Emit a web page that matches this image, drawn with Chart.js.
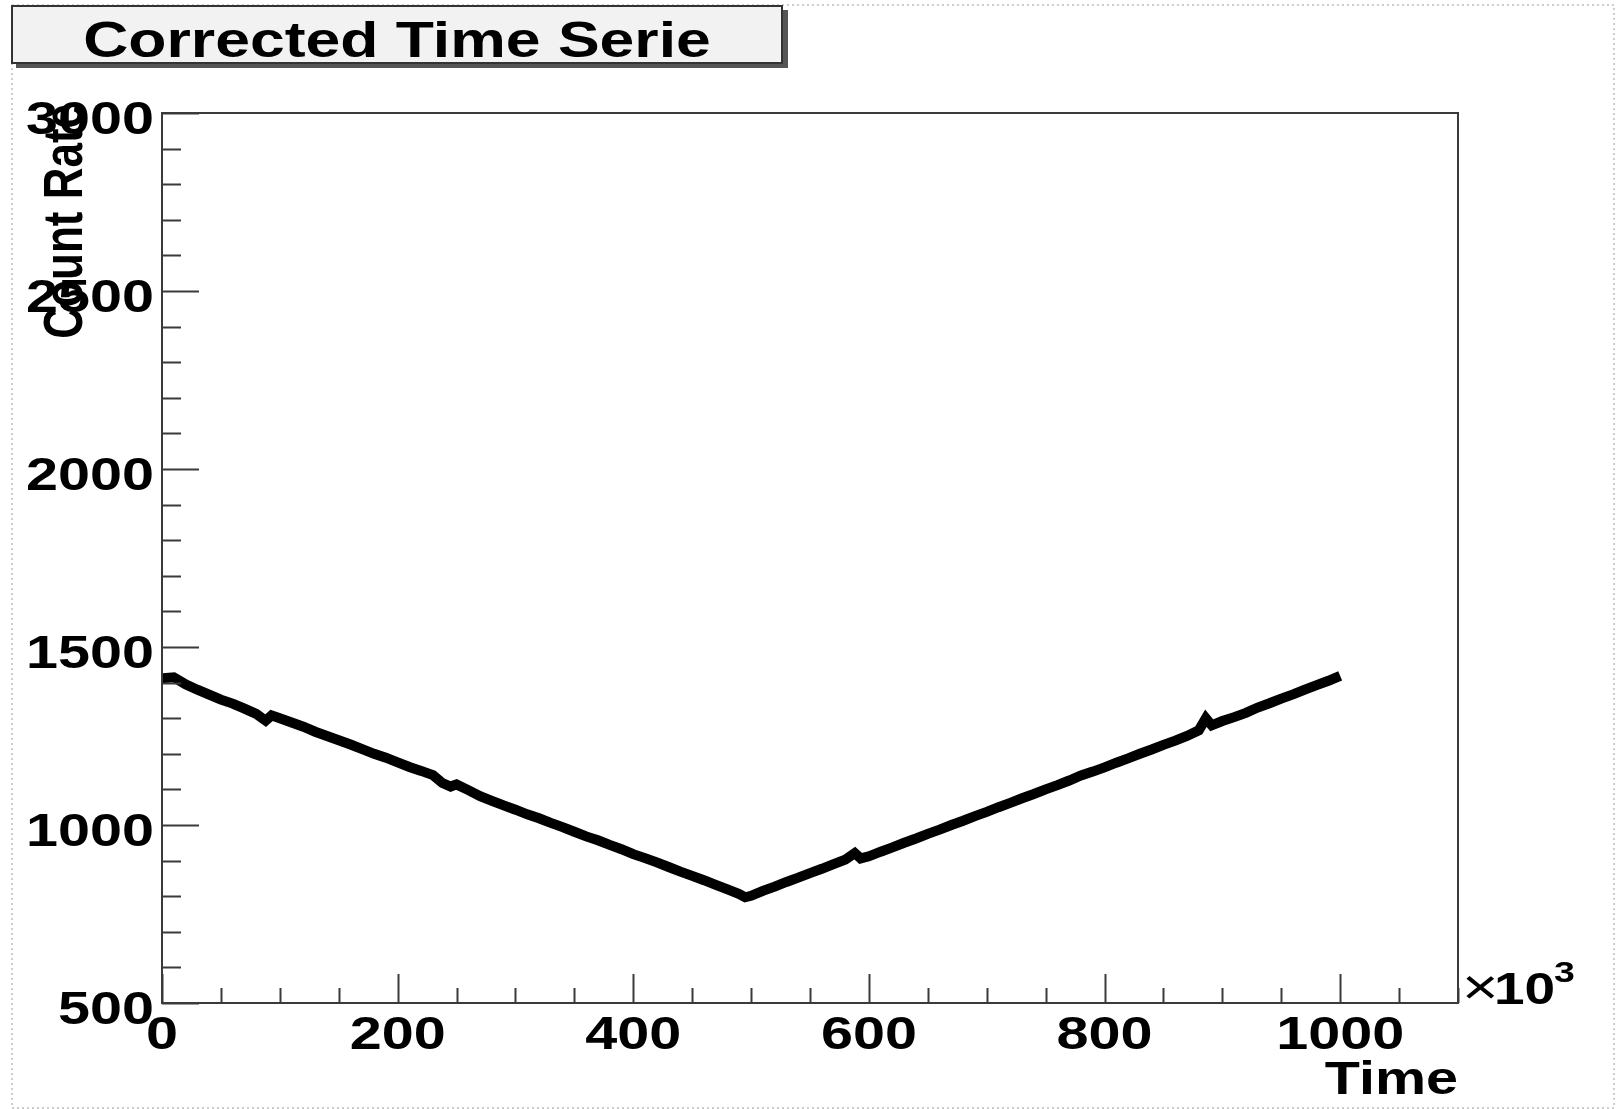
<!DOCTYPE html>
<html>
<head>
<meta charset="utf-8">
<script src="https://cdn.jsdelivr.net/npm/chart.js@4.4.1/dist/chart.umd.min.js"></script>
<style>
  html, body { margin: 0; padding: 0; background: #fff; }
  #chart-render { width: 1617px; height: 1109px; }
</style>
</head>
<body>
<div id="chart-render"><canvas id="timeSerie" width="1617" height="1109"></canvas></div>
<script>
// time in units of 10^3, count rate
const times = [0, 10, 20, 30, 40, 50, 60, 70, 80, 88, 93, 100, 110, 120, 130, 140, 150, 160, 170, 180,
  190, 200, 210, 220, 230, 238, 245, 250, 260, 270, 280, 290, 300, 310, 320, 330, 340, 350, 360, 370,
  380, 390, 400, 410, 420, 430, 440, 450, 460, 470, 480, 490, 495, 500, 510, 520, 530, 540, 550, 560,
  570, 580, 588, 593, 600, 610, 620, 630, 640, 650, 660, 670, 680, 690, 700, 710, 720, 730, 740, 750,
  760, 770, 780, 790, 800, 810, 820, 830, 840, 850, 860, 870, 880, 886, 891, 900, 910, 920, 930, 940,
  950, 960, 970, 980, 990, 1000];
const countRate = [1412, 1415, 1395, 1380, 1366, 1352, 1341, 1327, 1312, 1293, 1308, 1300, 1288, 1276, 1262, 1250, 1238, 1226, 1213, 1200,
  1189, 1176, 1163, 1152, 1140, 1118, 1108, 1114, 1098, 1081, 1068, 1055, 1043, 1030, 1019, 1006, 994, 981, 968, 957,
  944, 932, 918, 907, 895, 882, 869, 857, 845, 832, 819, 806, 797, 801, 815, 827, 840, 852, 865, 877,
  890, 903, 921, 906, 912, 925, 937, 950, 962, 975, 987, 1000, 1012, 1025, 1037, 1050, 1062, 1075, 1087, 1100,
  1112, 1125, 1139, 1150, 1162, 1175, 1187, 1200, 1212, 1225, 1237, 1250, 1266, 1300, 1280, 1292, 1303, 1315, 1330, 1342,
  1355, 1367, 1380, 1393, 1405, 1419];

const yTicks = [500, 1000, 1500, 2000, 2500, 3000];
const yMinorStep = 100;
const xTicks = [0, 200, 400, 600, 800, 1000];
const xMinorStep = 50;

const FONT = '"Liberation Sans", Arial, Helvetica, sans-serif';
const STRETCH = 1.25; // the original picture is stretched sideways

const stretchedText = (ctx, text, x, y, size, weight, align) => {
  ctx.save();
  ctx.translate(x, y);
  ctx.scale(STRETCH, 1);
  ctx.font = `${weight} ${size}px ${FONT}`;
  ctx.textAlign = align;
  ctx.textBaseline = 'alphabetic';
  ctx.fillText(text, 0, 0);
  ctx.restore();
};

// ROOT-like frame, inside ticks, labels and title box
const rootStyle = {
  id: 'rootStyle',
  beforeDraw(chart) {
    const { ctx } = chart;
    ctx.save();
    ctx.strokeStyle = '#bdbdbd';
    ctx.lineWidth = 1.5;
    ctx.setLineDash([2, 3]);
    ctx.strokeRect(12, 5, 1602, 1103);
    ctx.restore();
  },
  afterDraw(chart) {
    const { ctx, chartArea: a } = chart;
    const xs = chart.scales.x;
    const ys = chart.scales.y;

    ctx.save();
    ctx.strokeStyle = '#3a3a3a';
    ctx.lineWidth = 2;
    ctx.strokeRect(a.left, a.top, a.right - a.left, a.bottom - a.top);

    // y ticks
    ctx.beginPath();
    for (let v = ys.min; v <= ys.max; v += yMinorStep) {
      const py = Math.round(ys.getPixelForValue(v)) + 0.5;
      const len = yTicks.includes(v) ? 37 : 19;
      ctx.moveTo(a.left, py);
      ctx.lineTo(a.left + len, py);
    }
    // x ticks
    for (let v = xs.min; v <= xs.max; v += xMinorStep) {
      const px = Math.round(xs.getPixelForValue(v)) + 0.5;
      const len = xTicks.includes(v) ? 29 : 15;
      ctx.moveTo(px, a.bottom);
      ctx.lineTo(px, a.bottom - len);
    }
    ctx.stroke();

    ctx.fillStyle = '#000';
    yTicks.forEach((v) => {
      stretchedText(ctx, String(v), a.left - 8, ys.getPixelForValue(v) + 21, 46, 'bold', 'right');
    });
    xTicks.forEach((v) => {
      stretchedText(ctx, String(v), xs.getPixelForValue(v), a.bottom + 46, 46, 'bold', 'center');
    });

    // axis titles
    stretchedText(ctx, 'Time', a.right, 1094, 46, 'bold', 'right');
    stretchedText(ctx, '\u00d7', a.right + 4, 1004, 50, 'normal', 'left');
    stretchedText(ctx, '10', a.right + 36, 1004, 44, 'bold', 'left');
    stretchedText(ctx, '3', a.right + 96, 982, 30, 'bold', 'left');

    ctx.save();
    ctx.translate(82, 104);
    ctx.scale(STRETCH, 1);
    ctx.rotate(-Math.PI / 2);
    ctx.font = `bold 44px ${FONT}`;
    ctx.textAlign = 'right';
    ctx.fillText('Count Rate', 0, 0);
    ctx.restore();

    // title box
    ctx.fillStyle = '#555';
    ctx.fillRect(16, 10, 772, 58);
    ctx.fillStyle = '#f2f2f2';
    ctx.fillRect(12, 6, 770, 57);
    ctx.strokeStyle = '#333';
    ctx.lineWidth = 2;
    ctx.strokeRect(12, 6, 770, 57);
    ctx.fillStyle = '#000';
    stretchedText(ctx, 'Corrected Time Serie', 397, 57, 50, 'bold', 'center');
    ctx.restore();
  },
};

const ctx = document.getElementById('timeSerie');
window.chartInstance = new Chart(ctx, {
  type: 'line',
  data: {
    datasets: [
      {
        label: 'Corrected Time Serie',
        data: times.map((t, i) => ({ x: t, y: countRate[i] })),
        borderColor: '#000',
        borderWidth: 10,
        pointRadius: 0,
        tension: 0,
        fill: false,
      },
    ],
  },
  options: {
    responsive: false,
    animation: false,
    layout: { padding: { left: 162, top: 113, right: 159, bottom: 106 } },
    plugins: { legend: { display: false }, tooltip: { enabled: false }, title: { display: false } },
    scales: {
      x: { type: 'linear', min: 0, max: 1100, display: false },
      y: { type: 'linear', min: 500, max: 3000, display: false },
    },
  },
  plugins: [rootStyle],
});
</script>
</body>
</html>
